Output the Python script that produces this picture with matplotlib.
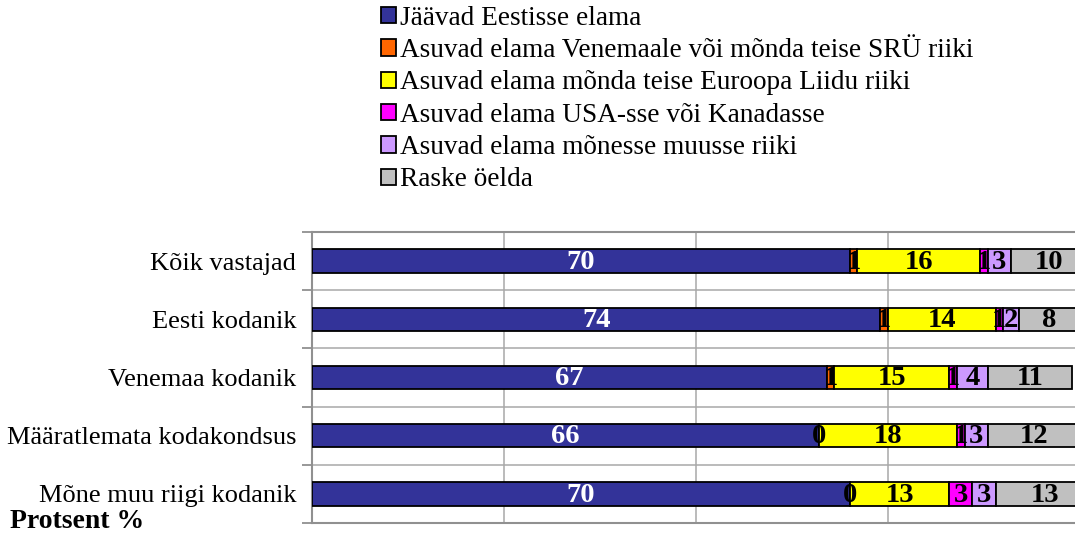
import matplotlib
matplotlib.use("Agg")
import matplotlib.pyplot as plt
from matplotlib.patches import Patch
import numpy as np

plt.rcParams['font.family'] = ['Liberation Serif', 'DejaVu Serif']

categories = ["Kõik vastajad", "Eesti kodanik", "Venemaa kodanik",
              "Määratlemata kodakondsus", "Mõne muu riigi kodanik"]
series_names = ["Jäävad Eestisse elama",
                "Asuvad elama Venemaale või mõnda teise SRÜ riiki",
                "Asuvad elama mõnda teise Euroopa Liidu riiki",
                "Asuvad elama USA-sse või Kanadasse",
                "Asuvad elama mõnesse muusse riiki",
                "Raske öelda"]
stay_estonia = [70, 74, 67, 66, 70]
russia_cis = [1, 1, 1, 0, 0]
other_eu = [16, 14, 15, 18, 13]
usa_canada = [1, 1, 1, 1, 3]
other_country = [3, 2, 4, 3, 3]
hard_to_say = [10, 8, 11, 12, 13]
series_values = [stay_estonia, russia_cis, other_eu, usa_canada, other_country, hard_to_say]
colors = ["#333399", "#FF6600", "#FFFF00", "#FF00FF", "#CC99FF", "#C0C0C0"]
label_colors = ["white", "black", "black", "black", "black", "black"]
axis_label = "Protsent %"

W, H = 1075, 546
fig = plt.figure(figsize=(W / 100, H / 100), dpi=100)
ax = fig.add_axes([312 / W, 1 - 523 / H, 768 / W, (523 - 232) / H])

y = np.arange(len(categories))
left = np.zeros(len(categories))
for vals, col, lc in zip(series_values, colors, label_colors):
    vals = np.array(vals, dtype=float)
    ax.barh(y, vals, left=left, height=0.4, color=col, edgecolor="black",
            linewidth=1.3, zorder=3)
    for yi, l, v in zip(y, left, vals):
        ax.text(l + v / 2, yi + 0.02, f"{int(v)}", ha="center", va="center",
                fontsize=20.5, fontweight="bold", color=lc, zorder=4)
    left += vals

ax.set_xlim(0, 100)
ax.set_ylim(len(categories) - 0.5, -0.5)
ax.set_xticks([0, 25, 50, 75, 100])
ax.set_xticklabels([])
ax.tick_params(axis="x", length=0)
ax.set_yticks(y)
ax.set_yticklabels(categories, fontsize=19)
ax.set_yticks(np.arange(-0.5, len(categories), 1.0), minor=True)
ax.tick_params(axis="y", which="major", length=0, pad=11.5)
ax.tick_params(axis="y", which="minor", length=7, width=1.3, color="#909090",
               direction="out")
ax.grid(axis="x", which="major", color="#a8a8a8", linewidth=1.1, zorder=0)
ax.grid(axis="y", which="minor", color="#a8a8a8", linewidth=1.1, zorder=0)
ax.set_axisbelow(True)
for s in ["left", "top", "bottom"]:
    ax.spines[s].set_color("#909090")
    ax.spines[s].set_linewidth(1.5)
ax.spines["right"].set_visible(False)

handles = [Patch(facecolor=c, edgecolor="black", linewidth=1.3) for c in colors]
fig.legend(handles, series_names, loc="upper left",
           bbox_to_anchor=(378 / W, 1 - 3 / H), frameon=False,
           fontsize=19.6, handlelength=0.55, handleheight=0.55,
           handletextpad=0.15, labelspacing=0.27, borderaxespad=0,
           borderpad=0.1)

fig.text(10 / W, 1 - 521 / H, axis_label, fontsize=20, fontweight="bold",
         ha="left", va="center")

fig.savefig("out.png", dpi=100)
